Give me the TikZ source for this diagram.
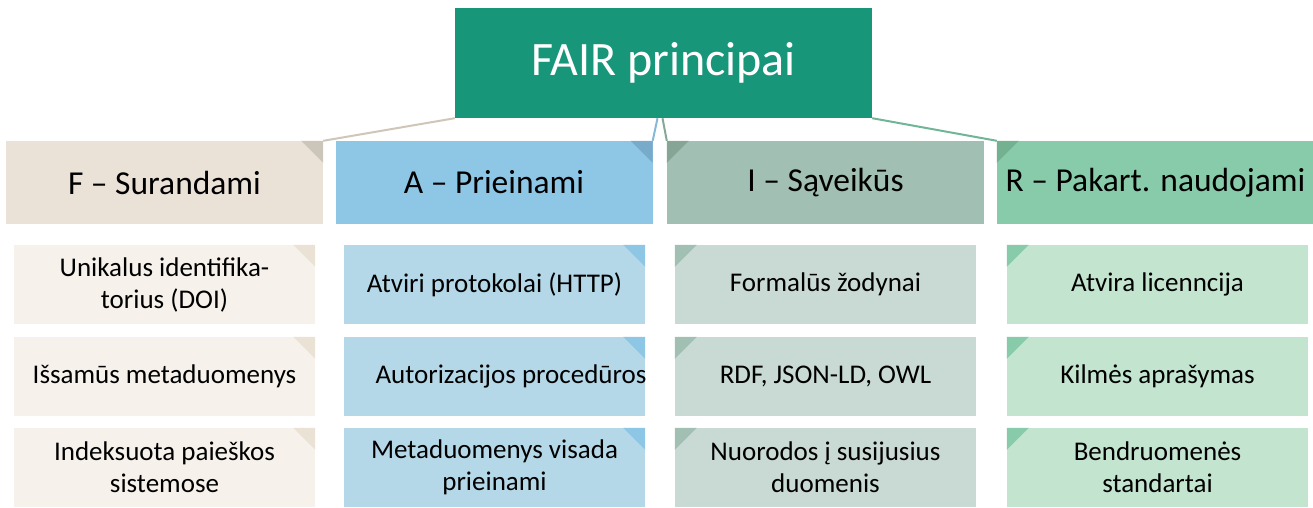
\documentclass[tikz,border=0pt]{standalone}
\usepackage{fontspec}
\setmainfont{Carlito}
\definecolor{topc}{HTML}{17967A}
\definecolor{fH}{HTML}{EBE2D7}\definecolor{fHt}{HTML}{CCC5BA}
\definecolor{aH}{HTML}{8EC7E6}\definecolor{aHt}{HTML}{78ABCA}
\definecolor{iH}{HTML}{A1BFB2}\definecolor{iHt}{HTML}{87A597}
\definecolor{rH}{HTML}{88CBAA}\definecolor{rHt}{HTML}{73B191}
\definecolor{fI}{HTML}{F6F2EB}\definecolor{fIt}{HTML}{EBE2D6}
\definecolor{aI}{HTML}{B4D8E8}\definecolor{aIt}{HTML}{8EC7E6}
\definecolor{iI}{HTML}{C9D9D3}\definecolor{iIt}{HTML}{A1BFB2}
\definecolor{rI}{HTML}{C3E5D0}\definecolor{rIt}{HTML}{88CBAA}
\definecolor{fL}{HTML}{CFC6B8}\definecolor{aL}{HTML}{86B9D6}
\definecolor{iL}{HTML}{84A796}\definecolor{rL}{HTML}{6FB596}
\begin{document}
\begin{tikzpicture}[x=1pt,y=-1pt,
  topbox/.style={fill=topc,text=white,minimum width=417pt,minimum height=110pt,inner sep=0pt,font=\fontsize{48}{56}\selectfont},
  hbox/.style={minimum width=317pt,minimum height=83pt,inner sep=0pt,font=\fontsize{33.5}{40}\selectfont},
  ibox/.style={minimum width=301pt,minimum height=79pt,inner sep=0pt,align=center,font=\fontsize{27}{32}\selectfont},
  itext/.style={inner sep=0pt,align=center,font=\fontsize{27}{32}\selectfont},
  conn/.style={line width=2pt}]
\useasboundingbox (0,0) rectangle (1313,507);
% title
\node[topbox] (top) at (663.5,63) {FAIR principai};
% headers
\node[hbox,fill=fH] (hF) at (164.5,182.5) {F – Surandami};
\node[hbox,fill=aH] (hA) at (494,182.5) {A – Prieinami};
\node[hbox,fill=iH] (hI) at (825.5,182.5) {I – Sąveikūs};
\node[hbox,fill=rH] (hR) at (1155.5,182.5) {R – Pakart. naudojami};
\fill[fHt] (hF.north east) -- ++(-22,0) -- ++(22,22) -- cycle;
\fill[aHt] (hA.north east) -- ++(-22,0) -- ++(22,22) -- cycle;
\fill[iHt] (hI.north west) -- ++(22,0) -- ++(-22,22) -- cycle;
\fill[rHt] (hR.north west) -- ++(22,0) -- ++(-22,22) -- cycle;
% connectors
\draw[conn,fL] (top.south west) -- (hF.north east);
\draw[conn,aL] ([xshift=-6pt]top.south) -- (hA.north east);
\draw[conn,iL] ([xshift=-1pt]top.south) -- (hI.north west);
\draw[conn,rL] (top.south east) -- (hR.north west);
% F items
\node[ibox,fill=fI] (f1) at (164.5,284.5) {Unikalus identifika-\\torius (DOI)};
\node[ibox,fill=fI] (f2) at (164.5,376.5) {Išsamūs metaduomenys};
\node[ibox,fill=fI] (f3) at (164.5,467.5) {Indeksuota paieškos\\sistemose};
\foreach \n in {f1,f2,f3}{\fill[fIt] (\n.north east) -- ++(-22,0) -- ++(22,22) -- cycle;}
% A items
\node[ibox,fill=aI] (a1) at (494.5,284.5) {Atviri protokolai (HTTP)};
\node[ibox,fill=aI] (a2) at (494.5,376.5) {};
\node[itext] (a2t) at (511,376.5) {Autorizacijos procedūros};
\node[ibox,fill=aI] (a3) at (494.5,467.5) {Metaduomenys visada\\prieinami};
\foreach \n in {a1,a2,a3}{\fill[aIt] (\n.north east) -- ++(-22,0) -- ++(22,22) -- cycle;}
% I items
\node[ibox,fill=iI] (i1) at (825.5,284.5) {Formalūs žodynai};
\node[ibox,fill=iI] (i2) at (825.5,376.5) {RDF, JSON-LD, OWL};
\node[ibox,fill=iI] (i3) at (825.5,467.5) {Nuorodos į susijusius\\duomenis};
\foreach \n in {i1,i2,i3}{\fill[iIt] (\n.north west) -- ++(22,0) -- ++(-22,22) -- cycle;}
% R items
\node[ibox,fill=rI] (r1) at (1157.5,284.5) {Atvira licenncija};
\node[ibox,fill=rI] (r2) at (1157.5,376.5) {Kilmės aprašymas};
\node[ibox,fill=rI] (r3) at (1157.5,467.5) {Bendruomenės\\standartai};
\foreach \n in {r1,r2,r3}{\fill[rIt] (\n.north west) -- ++(22,0) -- ++(-22,22) -- cycle;}
\end{tikzpicture}
\end{document}
